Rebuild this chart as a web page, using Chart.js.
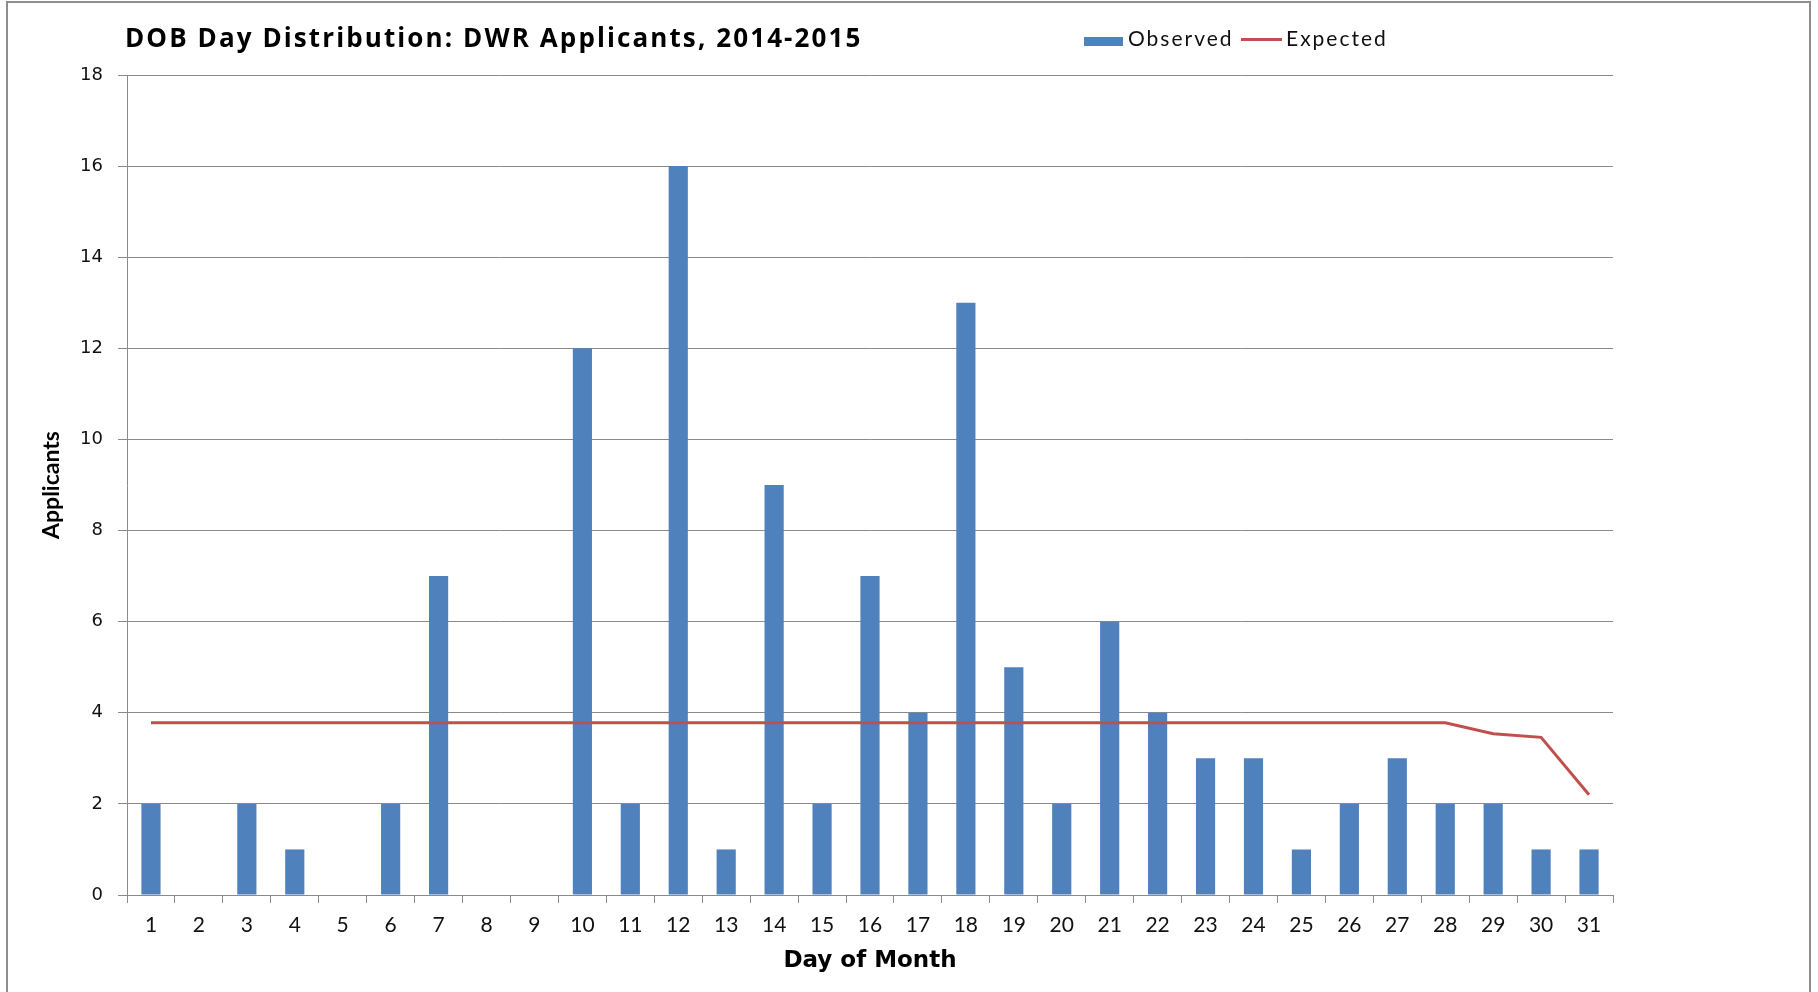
<!DOCTYPE html>
<html>
<head>
<meta charset="utf-8">
<title>DOB Day Distribution: DWR Applicants, 2014-2015</title>
<script src="https://cdn.jsdelivr.net/npm/chart.js@4.4.1/dist/chart.umd.min.js"></script>
<style>
  html, body { margin: 0; padding: 0; background: #ffffff; overflow: hidden; }
  body { width: 1818px; height: 992px; position: relative; font-family: Lato, "Open Sans", sans-serif; }
  #frame { position: absolute; left: 6px; top: 1px; width: 1805px; height: 1100px; border: 2px solid #8e8e8e; box-sizing: border-box; }
  #wrap { position: absolute; left: 0; top: 0; width: 1818px; height: 992px; }
  #title { position: absolute; left: 125px; top: 23.6px; font: bold 26px/26px "Open Sans", sans-serif; color: #000000; white-space: nowrap; letter-spacing: 2.1px; }
  .lg { position: absolute; font: 21px/21px Lato, sans-serif; color: #111111; white-space: nowrap; letter-spacing: 2px; top: 27.4px; }
  .swatch { position: absolute; }
</style>
</head>
<body>
<div id="frame"></div>
<div id="wrap"><canvas id="c" width="1818" height="992"></canvas></div>
<div id="title">DOB Day Distribution: DWR Applicants, 2014-2015</div>
<div class="swatch" style="left:1084px;top:37px;width:39px;height:9px;background:#4F81BD"></div>
<div class="lg" style="left:1128px">Observed</div>
<div class="swatch" style="left:1241px;top:38px;width:41px;height:3px;background:#C0504D"></div>
<div class="lg" style="left:1286px">Expected</div>
<script>
// Day of month categories
const days = ['1','2','3','4','5','6','7','8','9','10','11','12','13','14','15','16',
              '17','18','19','20','21','22','23','24','25','26','27','28','29','30','31'];

// Applicants counted per birth day of month
const observed = [2, 0, 2, 1, 0, 2, 7, 0, 0, 12, 2, 16, 1, 9, 2, 7,
                  4, 13, 5, 2, 6, 4, 3, 3, 1, 2, 3, 2, 2, 1, 1];

// Expected count for each day (fewer months have days 29-31)
const expected = [3.78, 3.78, 3.78, 3.78, 3.78, 3.78, 3.78, 3.78, 3.78, 3.78,
                  3.78, 3.78, 3.78, 3.78, 3.78, 3.78, 3.78, 3.78, 3.78, 3.78,
                  3.78, 3.78, 3.78, 3.78, 3.78, 3.78, 3.78, 3.78, 3.54, 3.46, 2.20];

const yTicks = [0, 2, 4, 6, 8, 10, 12, 14, 16, 18];

const GRID = '#8a8a8a';

new Chart(document.getElementById('c'), {
  data: {
    labels: days,
    datasets: [
      {
        type: 'line',
        label: 'Expected',
        data: expected,
        borderColor: '#C0504D',
        backgroundColor: '#C0504D',
        borderWidth: 3,
        pointRadius: 0,
        tension: 0,
        order: 0
      },
      {
        type: 'bar',
        label: 'Observed',
        data: observed,
        backgroundColor: '#4F81BD',
        borderWidth: 0,
        barPercentage: 0.4,
        categoryPercentage: 1.0,
        order: 1
      }
    ]
  },
  options: {
    responsive: false,
    animation: false,
    layout: { padding: { top: 75, right: 205, left: 0, bottom: 0 } },
    plugins: {
      legend: { display: false },
      title: { display: false },
      tooltip: { enabled: false }
    },
    scales: {
      x: {
        offset: true,
        grid: {
          offset: true,
          drawOnChartArea: false,
          drawTicks: true,
          tickLength: 8,
          color: GRID,
          lineWidth: 1
        },
        border: { display: true, color: GRID, width: 1 },
        ticks: {
          color: '#111111',
          font: { family: 'Lato', size: 21 },
          padding: 10,
          maxRotation: 0,
          autoSkip: false
        },
        title: {
          display: true,
          text: 'Day of Month',
          color: '#000000',
          font: { family: 'DejaVu Sans', size: 23, weight: 'bold' },
          padding: { top: 0, bottom: 17 }
        },
        afterFit: (s) => { s.height = 97; }
      },
      y: {
        min: 0,
        max: 18,
        afterBuildTicks: (s) => { s.ticks = yTicks.map(v => ({ value: v })); },
        grid: {
          color: GRID,
          lineWidth: 1,
          drawTicks: true,
          tickLength: 9
        },
        border: { display: true, color: GRID, width: 1 },
        ticks: {
          color: '#111111',
          font: { family: 'DejaVu Sans', size: 18 },
          padding: 15
        },
        title: {
          display: true,
          text: 'Applicants',
          color: '#000000',
          font: { family: 'Lato', size: 23, weight: 'bold' },
          padding: { top: 38, bottom: 0 }
        },
        afterFit: (s) => { s.width = 127; }
      }
    }
  }
});
</script>
</body>
</html>
